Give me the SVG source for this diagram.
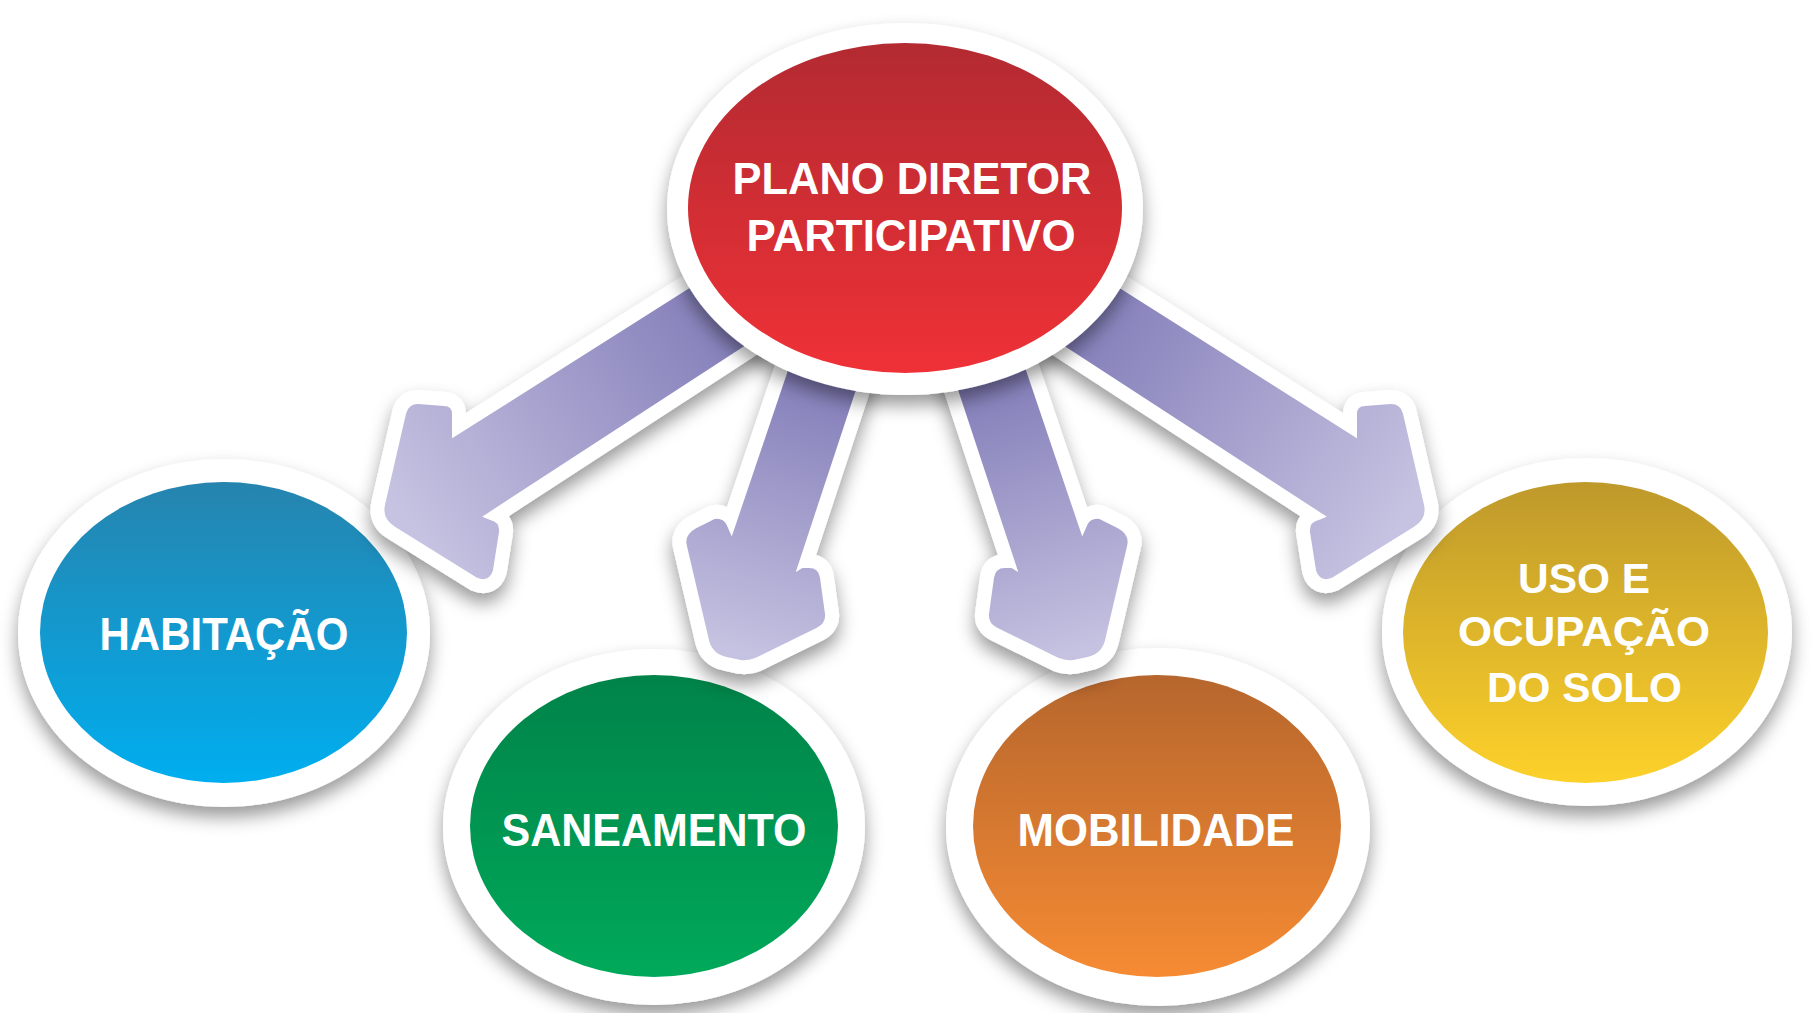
<svg xmlns="http://www.w3.org/2000/svg" width="1812" height="1013" viewBox="0 0 1812 1013">
<defs>
  <filter id="sh" x="-25%" y="-25%" width="150%" height="160%">
    <feDropShadow dx="0" dy="10" stdDeviation="9" flood-color="#000" flood-opacity="0.4"/>
  </filter>
  <linearGradient id="gRed" x1="0" y1="0" x2="0" y2="1"><stop offset="0" stop-color="#b32a31"/><stop offset="1" stop-color="#ef3137"/></linearGradient>
  <linearGradient id="gBlue" x1="0" y1="0" x2="0" y2="1"><stop offset="0" stop-color="#2684ae"/><stop offset="1" stop-color="#00aeef"/></linearGradient>
  <linearGradient id="gGreen" x1="0" y1="0" x2="0" y2="1"><stop offset="0" stop-color="#008349"/><stop offset="1" stop-color="#00a95a"/></linearGradient>
  <linearGradient id="gOrange" x1="0" y1="0" x2="0" y2="1"><stop offset="0" stop-color="#b6662d"/><stop offset="1" stop-color="#f68b33"/></linearGradient>
  <linearGradient id="gYellow" x1="0" y1="0" x2="0" y2="1"><stop offset="0" stop-color="#be992b"/><stop offset="1" stop-color="#fdd12a"/></linearGradient>
  <linearGradient id="gA1" gradientUnits="userSpaceOnUse" x1="745" y1="300" x2="415" y2="530"><stop offset="0" stop-color="#7f7ab6"/><stop offset="1" stop-color="#c6c2e1"/></linearGradient>
  <linearGradient id="gA2" gradientUnits="userSpaceOnUse" x1="830" y1="365" x2="745" y2="655"><stop offset="0" stop-color="#7f7ab6"/><stop offset="1" stop-color="#c6c2e1"/></linearGradient>
  <path id="a1" d="M725,268 L450,442 L450,414 Q450,408 444,408 L418,406 Q410,406 408,414 L387,505 Q384,518 396,525 L478,576 Q488,580 491,570 L497,532 Q498,524 490,522 L478,517 L770,327 Z"/>
  <path id="a2" d="M797,350 L732,542 L725,526 Q722,520 715,521 L697,530 Q686,536 689,546 L711,640 Q714,652 727,655 L741,658 Q748,659 755,656 L816,626 Q824,622 823,614 L818,578 Q817,570 809,570 L803,570 L792,577 L863,362 Z"/>
</defs>
<style>
  .ring { fill:#ffffff; filter:url(#sh); }
  .lbl { font-family:"Liberation Sans",Arial,sans-serif; font-weight:700; fill:#ffffff; text-anchor:middle; }
  .aout { fill:#ffffff; stroke:#ffffff; stroke-width:32; stroke-linejoin:round; filter:url(#sh); }
  .ain1 { fill:url(#gA1); stroke:url(#gA1); stroke-width:4; stroke-linejoin:round; }
  .ain2 { fill:url(#gA2); stroke:url(#gA2); stroke-width:4; stroke-linejoin:round; }
</style>
<rect width="1812" height="1013" fill="#ffffff"/>

<g id="habitacao">
  <ellipse class="ring" cx="224" cy="633" rx="206" ry="174"/>
  <ellipse cx="223.5" cy="632.5" rx="183.5" ry="150.5" fill="url(#gBlue)"/>
  <text class="lbl" x="224" y="650" font-size="46" textLength="249" lengthAdjust="spacingAndGlyphs">HABITAÇÃO</text>
</g>
<g id="saneamento">
  <ellipse class="ring" cx="654" cy="827" rx="211" ry="178"/>
  <ellipse cx="654" cy="826" rx="184" ry="151" fill="url(#gGreen)"/>
  <text class="lbl" x="654" y="846" font-size="47" textLength="305" lengthAdjust="spacingAndGlyphs">SANEAMENTO</text>
</g>
<g id="mobilidade">
  <ellipse class="ring" cx="1158" cy="827" rx="212" ry="179"/>
  <ellipse cx="1157" cy="826" rx="184" ry="151" fill="url(#gOrange)"/>
  <text class="lbl" x="1156" y="846" font-size="47" textLength="277" lengthAdjust="spacingAndGlyphs">MOBILIDADE</text>
</g>
<g id="uso-ocupacao">
  <ellipse class="ring" cx="1587" cy="632" rx="205" ry="174"/>
  <ellipse cx="1585.5" cy="632.5" rx="182.5" ry="150.5" fill="url(#gYellow)"/>
  <text class="lbl" x="1584" y="593" font-size="43" textLength="132" lengthAdjust="spacingAndGlyphs">USO E</text>
  <text class="lbl" x="1584" y="646" font-size="43" textLength="252" lengthAdjust="spacingAndGlyphs">OCUPAÇÃO</text>
  <text class="lbl" x="1584.5" y="702" font-size="43" textLength="195" lengthAdjust="spacingAndGlyphs">DO SOLO</text>
</g>

<g id="connectors">
  <g id="arrow-habitacao">
    <use href="#a1" class="aout"/>
    <use href="#a1" class="ain1"/>
  </g>
  <g id="arrow-saneamento">
    <use href="#a2" class="aout"/>
    <use href="#a2" class="ain2"/>
  </g>
  <g id="arrow-mobilidade" transform="matrix(-1 0 0 1 1814 0)">
    <use href="#a2" class="aout"/>
    <use href="#a2" class="ain2"/>
  </g>
  <g id="arrow-uso" transform="matrix(-1 0 0 1 1809 0)">
    <use href="#a1" class="aout"/>
    <use href="#a1" class="ain1"/>
  </g>
</g>

<g id="plano-diretor">
  <ellipse class="ring" cx="905" cy="209" rx="238" ry="186"/>
  <ellipse cx="905" cy="208" rx="217" ry="165" fill="url(#gRed)"/>
  <text class="lbl" x="912" y="194" font-size="44" textLength="359" lengthAdjust="spacingAndGlyphs">PLANO DIRETOR</text>
  <text class="lbl" x="911" y="251" font-size="45" textLength="329" lengthAdjust="spacingAndGlyphs">PARTICIPATIVO</text>
</g>
</svg>
